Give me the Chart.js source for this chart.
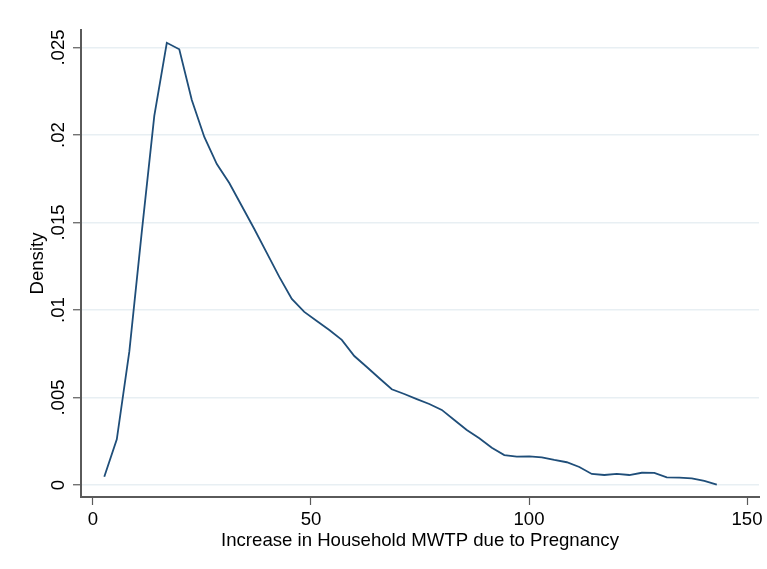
<!DOCTYPE html>
<html>
<head>
<meta charset="utf-8">
<script src="https://cdn.jsdelivr.net/npm/chart.js@4/dist/chart.umd.min.js"></script>
<style>
  html, body { margin: 0; padding: 0; background: #fff; }
  canvas { display: block; }
</style>
</head>
<body>
<canvas id="chart" width="767" height="569"></canvas>
<script>
// kernel density estimate, 50 evaluation points
const xValues = [2.59, 5.46, 8.33, 11.19, 14.06, 16.93, 19.79, 22.66, 25.53, 28.40,
  31.26, 34.13, 37.00, 39.86, 42.73, 45.60, 48.46, 51.33, 54.20, 57.06,
  59.93, 62.80, 65.67, 68.53, 71.40, 74.27, 77.13, 80.00, 82.87, 85.73,
  88.60, 91.47, 94.33, 97.20, 100.07, 102.94, 105.80, 108.67, 111.54, 114.40,
  117.27, 120.14, 123.00, 125.87, 128.74, 131.60, 134.47, 137.34, 140.21, 143.07];
const density = [0.00047, 0.00261, 0.00762, 0.01446, 0.02109, 0.02527, 0.02490, 0.02200, 0.01989, 0.01834,
  0.01726, 0.01594, 0.01463, 0.01326, 0.01189, 0.01063, 0.00989, 0.00937, 0.00886, 0.00829,
  0.00737, 0.00674, 0.00610, 0.00547, 0.00520, 0.00491, 0.00463, 0.00429, 0.00371, 0.00314,
  0.00267, 0.00213, 0.00171, 0.00162, 0.00164, 0.00158, 0.00143, 0.00130, 0.00103, 0.00063,
  0.00057, 0.00063, 0.00057, 0.00070, 0.00069, 0.00044, 0.00042, 0.00038, 0.00023, 0.00002];

const xTicks = [0, 50, 100, 150];
const yTicks = [0, 0.005, 0.01, 0.015, 0.02, 0.025];
const yTickLabels = ['0', '.005', '.01', '.015', '.02', '.025'];

const xTitle = 'Increase in Household MWTP due to Pregnancy';
const yTitle = 'Density';

const font = {family: 'Liberation Sans, Arial, Helvetica, sans-serif', size: 18.6};
const axisColor = '#5a5a5a';
const gridColor = '#e8eff3';

new Chart(document.getElementById('chart'), {
  type: 'line',
  data: {
    datasets: [{
      data: xValues.map((x, i) => ({x: x, y: density[i]})),
      borderColor: '#1f4e79',
      borderWidth: 1.8,
      pointRadius: 0,
      tension: 0,
      fill: false
    }]
  },
  options: {
    responsive: false,
    animation: false,
    layout: {padding: {top: 30, right: 8, left: 0, bottom: 0}},
    plugins: {legend: {display: false}, tooltip: {enabled: false}},
    scales: {
      x: {
        type: 'linear',
        min: -2.75,
        max: 152.75,
        afterBuildTicks: s => { s.ticks = xTicks.map(v => ({value: v})); },
        afterFit: s => { s.height = 72; },
        grid: {drawOnChartArea: false, tickLength: 8, tickColor: axisColor, tickWidth: 1.2},
        border: {color: axisColor, width: 2},
        ticks: {color: '#000', font: font, padding: 4, maxRotation: 0, autoSkip: false},
        title: {display: true, text: xTitle, color: '#000', font: font, padding: {top: 0, bottom: 17}}
      },
      y: {
        min: -0.000686,
        max: 0.026,
        afterBuildTicks: s => { s.ticks = yTicks.map(v => ({value: v})); },
        afterFit: s => { s.width = 81; },
        grid: {color: gridColor, lineWidth: 1.5, tickLength: 8, tickColor: axisColor, tickWidth: 1.2},
        border: {color: axisColor, width: 2},
        ticks: {
          color: '#000', font: font, padding: -3.5, minRotation: 90, maxRotation: 90,
          crossAlign: 'center', autoSkip: false,
          callback: (v) => {
            const i = yTicks.findIndex(t => Math.abs(t - v) < 1e-9);
            return i >= 0 ? yTickLabels[i] : '';
          }
        },
        title: {display: true, text: yTitle, color: '#000', font: font, padding: {top: 27, bottom: 0}}
      }
    }
  }
});
</script>
</body>
</html>
